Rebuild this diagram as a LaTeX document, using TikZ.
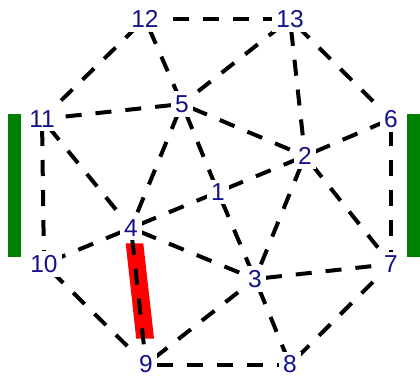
\documentclass[tikz,border=0pt]{standalone}
\usepackage{fontspec}
\setmainfont{Liberation Sans}
\definecolor{lblblue}{RGB}{18,18,140}
\definecolor{bargreen}{RGB}{0,128,0}
\pgfdeclarelayer{background}
\pgfsetlayers{background,main}
\begin{document}
\begin{tikzpicture}[x=1pt,y=-1pt,
  lbl/.style={inner sep=4pt, fill=white, text=lblblue, font=\fontsize{24.5}{24.5}\selectfont},
  edge/.style={line width=4pt, dash pattern=on 16pt off 14pt,
               shorten >=11pt, shorten <=11pt}]
\useasboundingbox (0,0) rectangle (420,376);
% nodes
\node[lbl] (n12) at (145,19) {12};
\node[lbl] (n13) at (290,19) {13};
\node[lbl] (n11) at (42,119) {11};
\node[lbl] (n6)  at (391,119) {6};
\node[lbl] (n10) at (44,264) {10};
\node[lbl] (n7)  at (391,264) {7};
\node[lbl] (n9)  at (146,364.5) {9};
\node[lbl] (n8)  at (290,364.5) {8};
\node[lbl] (n5)  at (182,104) {5};
\node[lbl] (n2)  at (305,156) {2};
\node[lbl] (n1)  at (218,192) {1};
\node[lbl] (n4)  at (131,228) {4};
\node[lbl] (n3)  at (255,279) {3};
\begin{pgfonlayer}{background}
% highlight bars
\fill[bargreen] (8,114) rectangle (21,257);
\fill[bargreen] (407,114) rectangle (420,257);
\fill[red] (125.7,243.3) -- (143.3,243.3) -- (154,338.5) -- (136.2,338.5) -- cycle;
% edges
\foreach \a/\b in {13/12, 12/11, 12/5, 13/5, 13/2, 13/6, 5/11, 11/10, 11/4,
                   5/2, 5/1, 1/3, 5/4, 4/1, 1/2, 2/6, 2/7, 2/3, 6/7,
                   4/10, 4/3, 4/9, 10/9, 9/3, 9/8, 3/7, 3/8, 8/7}
  \draw[edge] (n\a.center) -- (n\b.center);
\end{pgfonlayer}
\end{tikzpicture}
\end{document}
